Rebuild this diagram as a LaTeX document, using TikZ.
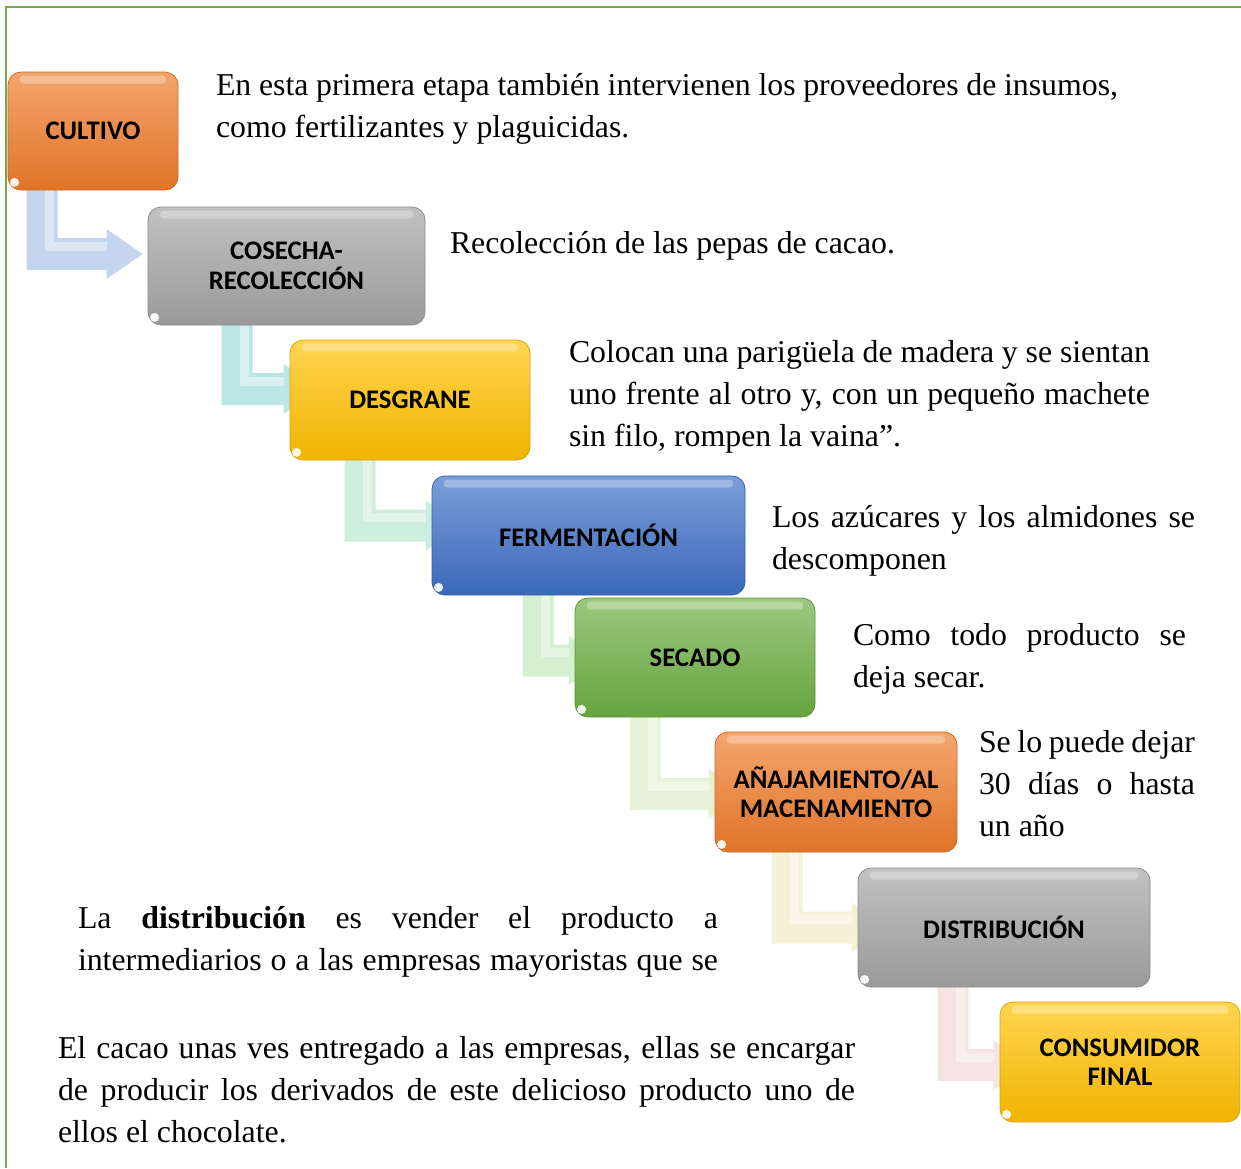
\documentclass[tikz,border=0pt]{standalone}
\usepackage{fontspec}
\setmainfont{Liberation Serif}
\newfontfamily\labfont{Carlito}
\usetikzlibrary{calc,backgrounds}
\definecolor{bOrange}{HTML}{EE7B2B}
\definecolor{bGray}{HTML}{A4A4A4}
\definecolor{bYellow}{HTML}{FFC000}
\definecolor{bBlue}{HTML}{3F6FC6}
\definecolor{bGreen}{HTML}{6DAE43}
\definecolor{frameGreen}{HTML}{70AD47}
\definecolor{aOne}{HTML}{C4D6EE}
\definecolor{aTwo}{HTML}{BCE6E6}
\definecolor{aThree}{HTML}{CDEEDC}
\definecolor{aFour}{HTML}{D4F0CF}
\definecolor{aFive}{HTML}{E5F2D8}
\definecolor{aSix}{HTML}{F4F1D6}
\definecolor{aSeven}{HTML}{F5E4E1}
\newcommand\jl[2]{\makebox[#1][s]{\spaceskip=.25em plus 1fil minus .16em\relax #2}}
\newcommand\pl[1]{{\spaceskip=0pt\xspaceskip=0pt\relax #1}}
\tikzset{
  stage/.style={rounded corners=13pt, draw=#1!85!black, line width=0.8pt,
    top color=#1!68!white, bottom color=#1!94!black, inner sep=0pt,
    align=center, font=\labfont\bfseries\fontsize{26.8}{29.5}\selectfont},
  body/.style={anchor=base west, inner sep=0pt, outer sep=0pt,
    font=\fontsize{31.8}{42.3}\selectfont},
  framestyle/.style={draw=frameGreen, line width=2pt},
}
% #1 from box, #2 to box, #3 stem offset, #4 vertical offset, #5 tip offset, #6 colour
\newcommand\bentarrow[6]{%
  \coordinate (s) at ($(#1.south west)+(#3,-6)$);
  \coordinate (t) at ($(#2.west)+(#5,#4)$);
  \coordinate (c) at (s |- t);
  \fill[#6] (s) -- ($(s)+(31,0)$) -- ($(c)+(31,-16)$) -- ($(t)+(-36,-16)$)
    -- ($(t)+(-36,-25)$) -- (t) -- ($(t)+(-36,25)$) -- ($(t)+(-36,16)$)
    -- ($(c)+(0,16)$) -- cycle;
  \draw[white, opacity=.45, line width=9pt] ($(s)+(23,0)$) -- ($(c)+(23,-8)$) -- ($(t)+(-36,-8)$);
}
\begin{document}
\begin{tikzpicture}[x=1pt,y=-1pt]
\useasboundingbox (0,0) rectangle (1241,1168);
\draw[framestyle] (6,1168) -- (6,7) -- (1241,7);

% boxes
\node[stage=bOrange, minimum width=170pt, minimum height=118pt] (b1) at (93,131) {CULTIVO};
\node[stage=bGray, minimum width=277pt, minimum height=118pt] (b2) at (286.5,266) {COSECHA-\\RECOLECCIÓN};
\node[stage=bYellow, minimum width=240pt, minimum height=120pt] (b3) at (410,400) {DESGRANE};
\node[stage=bBlue, minimum width=313pt, minimum height=119pt] (b4) at (588.5,535.5) {FERMENTACIÓN};
\node[stage=bGreen, minimum width=240pt, minimum height=119pt] (b5) at (695,657.5) {SECADO};
\node[stage=bOrange, minimum width=242pt, minimum height=120pt] (b6) at (836,792) {AÑAJAMIENTO/AL\\MACENAMIENTO};
\node[stage=bGray, minimum width=292pt, minimum height=119pt] (b7) at (1004,927.5) {DISTRIBUCIÓN};
\node[stage=bYellow, minimum width=240pt, minimum height=120pt] (b8) at (1120,1062) {CONSUMIDOR\\FINAL};

\foreach \b in {b1,b2,b3,b4,b5,b6,b7,b8}{
  \fill[white, opacity=.3, rounded corners=4pt] ($(\b.north west)+(12,4)$) rectangle ($(\b.north east)+(-12,12)$);
  \fill[white, opacity=.9] ($(\b.south west)+(7,-8)$) circle (4.5);
}

% bent arrows behind the boxes
\begin{pgfonlayer}{background}
\bentarrow{b1}{b2}{19}{-12}{-5}{aOne}
\bentarrow{b2}{b3}{74}{-11}{30}{aTwo}
\bentarrow{b3}{b4}{55}{-10}{30}{aThree}
\bentarrow{b4}{b5}{91}{3}{30}{aFour}
\bentarrow{b5}{b6}{55}{2}{30}{aFive}
\bentarrow{b6}{b7}{57}{0}{30}{aSix}
\bentarrow{b7}{b8}{80}{3}{30}{aSeven}
\end{pgfonlayer}

% texts
\node[body, text width=902pt, align=left] (t1) at (216,95)
  {\jl{902pt}{En esta primera etapa también intervienen los proveedores de insumos,}\\
   \pl{como fertilizantes y plaguicidas.}};
\node[body] (t2) at (450,253) {Recolección de las pepas de cacao.};
\node[body, text width=581pt, align=left] (t3) at (569,362)
  {\jl{581pt}{Colocan una parigüela de madera y se sientan}\\
   \jl{581pt}{uno frente al otro y, con un pequeño machete}\\
   \pl{sin filo, rompen la vaina”.}};
\node[body, text width=423pt, align=left] (t4) at (772,527)
  {\jl{423pt}{Los azúcares y los almidones se}\\
   \pl{descomponen}};
\node[body, text width=333pt, align=left] (t5) at (853,645)
  {\jl{333pt}{Como todo producto se}\\
   \pl{deja secar.}};
\node[body, text width=216pt, align=left] (t6) at (979,752)
  {\jl{216pt}{Se lo puede dejar}\\
   \jl{216pt}{30 días o hasta}\\
   \pl{un año}};
\node[body, text width=640pt, align=left] (t7) at (78,928)
  {\jl{640pt}{La \textbf{distribución} es vender el producto a}\\
   \jl{640pt}{intermediarios o a las empresas mayoristas que se}};
\node[body, text width=797pt, align=left] (t8) at (58,1058)
  {\jl{797pt}{El cacao unas ves entregado a las empresas, ellas se encargar}\\
   \jl{797pt}{de producir los derivados de este delicioso producto uno de}\\
   \pl{ellos el chocolate.}};
\end{tikzpicture}
\end{document}
